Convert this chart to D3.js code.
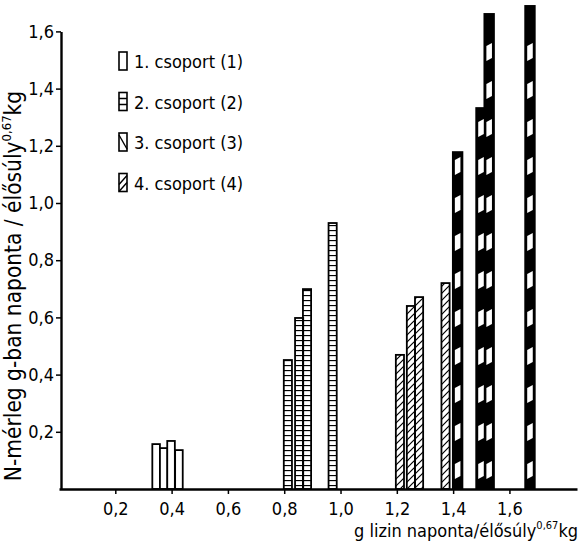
<!DOCTYPE html>
<html>
<head>
<meta charset="utf-8">
<script src="https://cdn.jsdelivr.net/npm/d3@7"></script>
<style>
body { margin: 0; background: #fff; }
text { font-family: "DejaVu Sans Condensed", "DejaVu Sans", sans-serif; font-stretch: condensed; fill: #000; }
</style>
</head>
<body>
<svg id="chart" width="584" height="541"></svg>
<script>
'use strict';

const groupNames = ['1. csoport (1)', '2. csoport (2)', '3. csoport (3)', '4. csoport (4)'];

// g lysine per day / kg^0.67 (x) and N balance (y), per group
const lysine1 = [0.345, 0.372, 0.398, 0.426];
const balance1 = [0.157, 0.143, 0.168, 0.136];
const lysine2 = [0.813, 0.853, 0.881, 0.972];
const balance2 = [0.451, 0.598, 0.699, 0.930];
const lysine3 = [1.211, 1.250, 1.279, 1.373];
const balance3 = [0.469, 0.640, 0.671, 0.720];
const lysine4 = [1.416, 1.499, 1.528, 1.673];
const balance4 = [1.178, 1.332, 1.661, 1.689];

const xTicks = [0.2, 0.4, 0.6, 0.8, 1.0, 1.2, 1.4, 1.6];
const yTicks = [0.2, 0.4, 0.6, 0.8, 1.0, 1.2, 1.4, 1.6];

const xTitle = 'g lizin naponta/élősúly';
const yTitle = 'N-mérleg g-ban naponta / élősúly';
const expo = '0,67';
const unit = 'kg';


const svg = d3.select('#chart');
const x = d3.scaleLinear().domain([0, 1.84]).range([59, 577]);
const y = d3.scaleLinear().domain([0, 1.6]).range([489, 31.4]);
const fmt = (d) => d3.format('.1f')(d).replace('.', ',');

const defs = svg.append('defs');
defs.append('pattern')
    .attr('id', 'ladder')
    .attr('patternUnits', 'userSpaceOnUse')
    .attr('width', 10).attr('height', 5)
    .append('line')
    .attr('x1', 0).attr('x2', 10).attr('y1', 0.5).attr('y2', 0.5)
    .attr('stroke', '#000').attr('stroke-width', 1.3);
defs.append('pattern')
    .attr('id', 'hatch')
    .attr('patternUnits', 'userSpaceOnUse')
    .attr('width', 7).attr('height', 7)
    .append('path')
    .attr('d', 'M0,7L7,0M-1,1L1,-1M6,8L8,6')
    .attr('stroke', '#000').attr('stroke-width', 1.2);

function zip(xs, ys) {
    return xs.map((v, i) => ({x: v, y: ys[i]}));
}

function drawBars(data, w, fill, cls) {
    const half = (x(w) - x(0)) / 2;
    return svg.append('g').attr('class', cls)
        .selectAll('rect')
        .data(data)
        .join('rect')
        .attr('x', (d) => x(d.x) - half)
        .attr('width', half * 2)
        .attr('y', (d) => y(d.y))
        .attr('height', (d) => y(0) - y(d.y))
        .attr('fill', fill)
        .attr('stroke', '#000')
        .attr('stroke-width', 1.8);
}

drawBars(zip(lysine1, balance1), 0.027, '#fff', 'g1');
drawBars(zip(lysine2, balance2), 0.029, 'url(#ladder)', 'g2');
drawBars(zip(lysine3, balance3), 0.029, 'url(#hatch)', 'g3');
drawBars(zip(lysine4, balance4), 0.034, '#000', 'g4');

// white slanted gaps in the black bars
const d4 = zip(lysine4, balance4);
const half4 = (x(0.034) - x(0)) / 2;
const gaps = svg.append('g');
d4.forEach((d) => {
    const l = x(d.x) - half4 + 2;
    const r = x(d.x) + half4 - 2;
    for (let b = y(0) - 10; b - 17 > y(d.y) + 4; b -= 38) {
        gaps.append('path')
            .attr('d', `M${l},${b}L${r},${b - 3}L${r},${b - 18}L${l},${b - 15}Z`)
            .attr('fill', '#fff');
    }
});

// axes
const xAxis = svg.append('g')
    .attr('transform', `translate(0,${y(0)})`)
    .call(d3.axisBottom(x).tickValues(xTicks).tickFormat(fmt)
        .tickSize(5).tickSizeOuter(0).tickPadding(8));
const yAxis = svg.append('g')
    .attr('transform', `translate(${x(0) + 2},0)`)
    .call(d3.axisLeft(y).tickValues(yTicks).tickFormat(fmt)
        .tickSize(5).tickSizeOuter(0).tickPadding(2));
[xAxis, yAxis].forEach((a) => {
    a.select('.domain').attr('stroke', '#000').attr('stroke-width', 2.4);
    a.selectAll('.tick line').attr('stroke', '#000').attr('stroke-width', 1.5);
    a.selectAll('.tick text').attr('font-size', 18).attr('font-family', null);
});

// axis titles
const xt = svg.append('text').attr('x', 354).attr('y', 537).attr('font-size', 18);
xt.append('tspan').text(xTitle);
xt.append('tspan').attr('font-size', 11).attr('dy', -8).text(expo);
xt.append('tspan').attr('dy', 8).text(unit);

const yt = svg.append('text')
    .attr('transform', 'translate(21,286) rotate(-90)')
    .attr('text-anchor', 'middle')
    .attr('font-size', 22.5);
yt.append('tspan').text(yTitle);
yt.append('tspan').attr('font-size', 13).attr('dy', -10).text(expo);
yt.append('tspan').attr('dy', 10).text(unit);

// legend
const legend = svg.append('g');
groupNames.forEach((name, i) => {
    const gy = 52 + i * 40.5;
    const g = legend.append('g').attr('transform', `translate(119,${gy})`);
    g.append('rect').attr('width', 8).attr('height', 18)
        .attr('fill', '#fff').attr('stroke', '#000').attr('stroke-width', 1.6);
    let marks = '';
    if (i === 1) marks = 'M0,6H8M0,12H8';
    if (i === 2) marks = 'M0,2L8,16';
    if (i === 3) marks = 'M0,11L8,2M0,18L8,9';
    if (marks) {
        g.append('path').attr('d', marks).attr('stroke', '#000').attr('stroke-width', 1.4);
    }
    g.append('text').attr('x', 15).attr('y', 16).attr('font-size', 18).text(name);
});
</script>
</body>
</html>
